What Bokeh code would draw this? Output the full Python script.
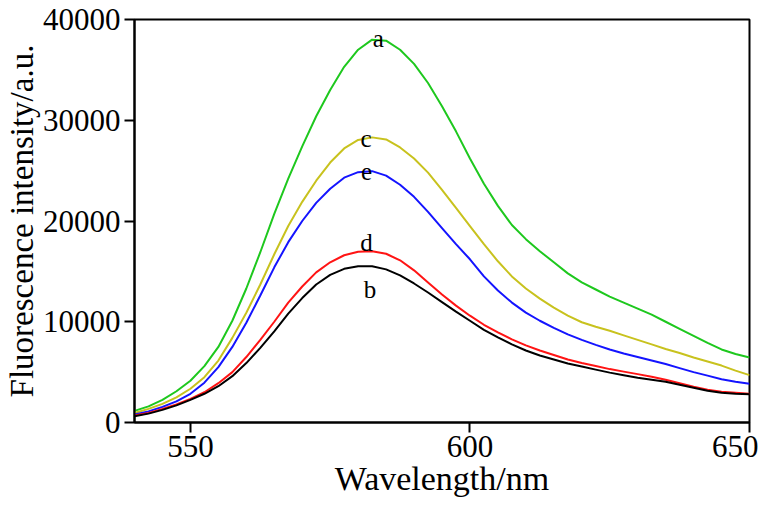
from bokeh.plotting import figure
from bokeh.models import Range1d, FixedTicker
from bokeh.core.properties import value
from bokeh.embed import file_html
from bokeh.resources import INLINE

wavelength = [540, 542.5, 545, 547.5, 550, 552.5, 555, 557.5, 560, 562.5, 565, 567.5,
              570, 572.5, 575, 577.5, 580, 582.5, 585, 587.5, 590, 592.5, 595, 597.5,
              600, 602.5, 605, 607.5, 610, 612.5, 615, 617.5, 620, 622.5, 625, 627.5,
              630, 632.5, 635, 637.5, 640, 642.5, 645, 647.5, 650]
curve_a = [1150, 1600, 2250, 3100, 4150, 5600, 7500, 10100, 13300, 16900, 20700, 24200,
           27400, 30400, 33000, 35300, 37000, 38000, 37900, 37000, 35600, 33700, 31400, 28900,
           26200, 23700, 21500, 19600, 18200, 17000, 15900, 14800, 13900, 13200, 12500, 11900,
           11300, 10700, 10000, 9300, 8600, 7900, 7250, 6800, 6450]
curve_c = [950, 1350, 1850, 2500, 3350, 4500, 6150, 8400, 10900, 13700, 16700, 19500,
           21900, 24000, 25800, 27200, 28050, 28300, 28100, 27300, 26200, 24800, 23100, 21300,
           19500, 17700, 16000, 14500, 13300, 12300, 11400, 10600, 9950, 9500, 9100, 8650,
           8200, 7750, 7300, 6900, 6450, 6050, 5650, 5150, 4700]
curve_e = [800, 1100, 1550, 2100, 2850, 3950, 5500, 7500, 9900, 12600, 15400, 17900,
           20000, 21800, 23200, 24300, 24850, 24950, 24500, 23600, 22400, 20900, 19300, 17700,
           16200, 14500, 13100, 11900, 10900, 10100, 9400, 8750, 8200, 7700, 7250, 6850,
           6500, 6150, 5800, 5400, 5000, 4650, 4300, 4050, 3850]
curve_d = [700, 950, 1350, 1800, 2350, 3000, 3900, 5000, 6500, 8200, 10000, 11900,
           13500, 14900, 15900, 16600, 16950, 17000, 16750, 16100, 15100, 13900, 12700, 11600,
           10600, 9700, 8950, 8250, 7650, 7150, 6700, 6250, 5900, 5600, 5300, 5050,
           4800, 4550, 4250, 3900, 3550, 3250, 3050, 2950, 2850]
curve_b = [620, 880, 1250, 1700, 2250, 2850, 3600, 4600, 5900, 7400, 9050, 10800,
           12350, 13700, 14650, 15250, 15500, 15500, 15200, 14600, 13800, 12900, 11950, 11000,
           10100, 9200, 8450, 7750, 7150, 6650, 6250, 5850, 5550, 5250, 4950, 4700,
           4450, 4250, 4050, 3750, 3450, 3150, 2950, 2850, 2800]

series_names = ["a", "c", "e", "d", "b"]
series_colors = ["#1ec81e", "#c8c21e", "#1414ff", "#ff1414", "#000000"]

label_text = ["a", "c", "e", "d", "b"]
label_x = [583.6, 581.4, 581.5, 581.5, 582.1]
label_y = [38100, 28200, 24950, 17900, 13200]

x_ticks = [550, 600, 650]
y_ticks = [0, 10000, 20000, 30000, 40000]

FONT = "Liberation Serif"

p = figure(width=758, height=509, x_range=Range1d(540, 650), y_range=Range1d(0, 40000),
           output_backend="svg", toolbar_location=None,
           min_border_left=133, min_border_right=9, min_border_top=19, min_border_bottom=87)

series = [curve_a, curve_c, curve_e, curve_d, curve_b]
for ys, col in zip(series, series_colors):
    p.line(wavelength, ys, line_color=col, line_width=2)

p.text(x=label_x, y=label_y, text=label_text, text_font=value(FONT),
       text_font_size="25px", text_color="black", text_align="center",
       text_baseline="alphabetic")

p.grid.visible = False
p.outline_line_color = "black"
p.outline_line_width = 2
p.outline_line_alpha = 1.0

p.xaxis.ticker = FixedTicker(ticks=x_ticks)
p.yaxis.ticker = FixedTicker(ticks=y_ticks)
for ax in (p.xaxis[0], p.yaxis[0]):
    ax.axis_line_width = 2
    ax.axis_line_color = "black"
    ax.major_tick_line_width = 2
    ax.major_tick_line_color = "black"
    ax.major_tick_out = 10
    ax.major_tick_in = 0
    ax.minor_tick_out = 0
    ax.minor_tick_in = 0
    ax.major_label_text_font = FONT
    ax.major_label_text_font_size = "31px"
    ax.major_label_text_color = "black"
    ax.axis_label_text_font = FONT
    ax.axis_label_text_font_style = "normal"
    ax.axis_label_text_color = "black"

p.xaxis.axis_label = "Wavelength/nm"
p.xaxis.axis_label_text_font_size = "34px"
p.xaxis.major_label_standoff = 3
p.xaxis.axis_label_standoff = 0
p.yaxis.axis_label = "Fluorescence intensity/a.u."
p.yaxis.axis_label_text_font_size = "33px"
p.yaxis.major_label_standoff = 4
p.yaxis.axis_label_standoff = 0

open("out.html", "w").write(file_html(p, INLINE))
